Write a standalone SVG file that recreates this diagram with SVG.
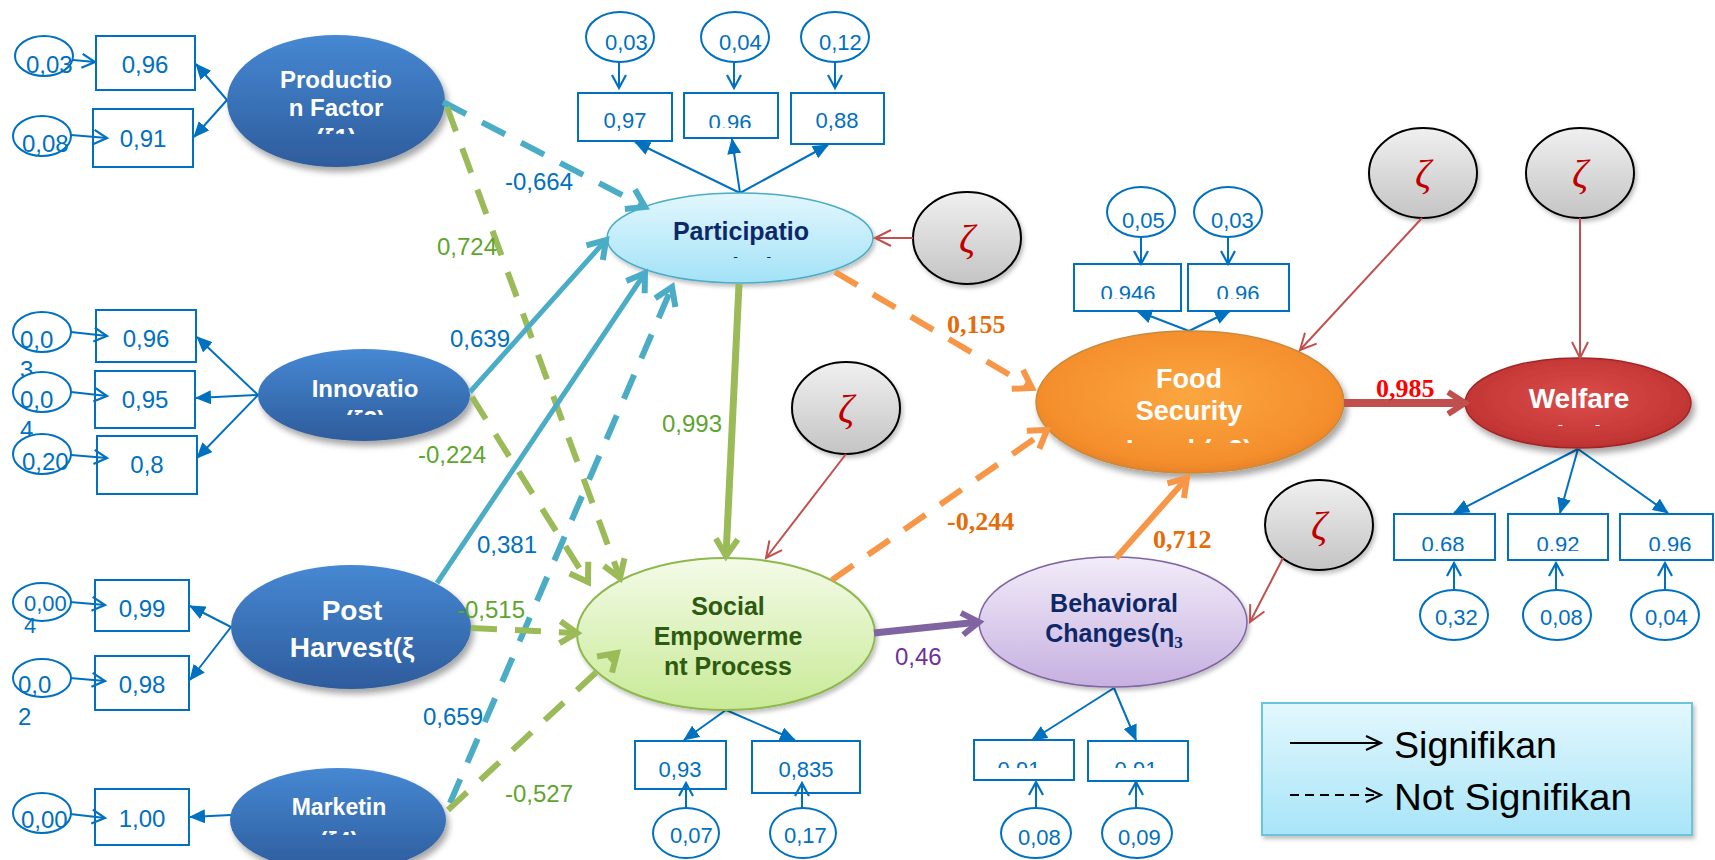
<svg xmlns="http://www.w3.org/2000/svg" width="1715" height="860" viewBox="0 0 1715 860">
<style>
.ind{stroke:#0070c0;stroke-width:2;fill:none}
.box{fill:#fff;stroke:#0070c0;stroke-width:2}
.err{fill:#fff;stroke:#0070c0;stroke-width:2}
.num{font-family:"Liberation Sans",Arial,sans-serif;font-size:22px;fill:#0070c0}
.numL{font-family:"Liberation Sans",Arial,sans-serif;font-size:24px;fill:#0070c0}
.c{text-anchor:middle}
.zeta{stroke:#000;stroke-width:2;fill:url(#gGray)}
.zt{font-family:"Liberation Serif","DejaVu Serif",serif;font-style:italic;font-size:40px;fill:#c00000;text-anchor:middle}
.zl{stroke:#c0504d;stroke-width:2;fill:none}
.lt{font-family:"Liberation Sans",Arial,sans-serif;font-weight:bold;text-anchor:middle}
.sb{stroke:#4bacc6;stroke-width:5;fill:none}
.db{stroke:#4bacc6;stroke-width:6;stroke-dasharray:26 18;fill:none}
.sg{stroke:#9bbb59;stroke-width:7;fill:none}
.dg{stroke:#9bbb59;stroke-width:6;stroke-dasharray:26 18;fill:none}
.do{stroke:#f79646;stroke-width:6;stroke-dasharray:26 18;fill:none}
.so{stroke:#f79646;stroke-width:6;fill:none}
.sp{stroke:#8064a2;stroke-width:7;fill:none}
.sr{stroke:#c0504d;stroke-width:8;fill:none}
.lab{font-family:"Liberation Sans",Arial,sans-serif;font-size:24px}
.labB{font-family:"Liberation Serif","Times New Roman",serif;font-weight:bold;font-size:26px}
.blue{fill:#0070c0}
.green{fill:#5ea52e}
</style>
<defs>
<linearGradient id="gExo" x1="0" y1="0" x2="0" y2="1"><stop offset="0" stop-color="#4688d3"/><stop offset="1" stop-color="#2e5c9c"/></linearGradient>
<linearGradient id="gPar" x1="0" y1="0" x2="0" y2="1"><stop offset="0" stop-color="#e2f7fd"/><stop offset="1" stop-color="#a3e2f7"/></linearGradient>
<linearGradient id="gSoc" x1="0" y1="0" x2="0" y2="1"><stop offset="0" stop-color="#f4fbe8"/><stop offset="1" stop-color="#c8ea96"/></linearGradient>
<radialGradient id="gFood" cx="0.5" cy="0.45" r="0.6"><stop offset="0" stop-color="#fba640"/><stop offset="0.8" stop-color="#f48e2c"/><stop offset="1" stop-color="#e07a25"/></radialGradient>
<radialGradient id="gWel" cx="0.5" cy="0.45" r="0.6"><stop offset="0" stop-color="#db4d4a"/><stop offset="0.85" stop-color="#c23534"/><stop offset="1" stop-color="#a82828"/></radialGradient>
<linearGradient id="gBeh" x1="0" y1="0" x2="0" y2="1"><stop offset="0" stop-color="#f2ecf9"/><stop offset="1" stop-color="#c6b0e0"/></linearGradient>
<linearGradient id="gGray" x1="0" y1="0" x2="0" y2="1"><stop offset="0" stop-color="#f0f0f0"/><stop offset="1" stop-color="#c4c4c4"/></linearGradient>
<linearGradient id="gLeg" x1="0" y1="0" x2="0" y2="1"><stop offset="0" stop-color="#e3f7fd"/><stop offset="1" stop-color="#a8e5f8"/></linearGradient>
<filter id="sh" x="-20%" y="-20%" width="140%" height="150%"><feDropShadow dx="3" dy="5" stdDeviation="3" flood-color="#000" flood-opacity="0.35"/></filter>
<filter id="shs" x="-20%" y="-20%" width="140%" height="150%"><feDropShadow dx="2" dy="3" stdDeviation="2" flood-color="#000" flood-opacity="0.25"/></filter>
<marker id="mBlue" markerUnits="userSpaceOnUse" viewBox="0 0 30 30" refX="26" refY="15" markerWidth="30" markerHeight="30" orient="auto" overflow="visible"><path d="M9,4 L26,15 L9,26" fill="none" stroke="#4bacc6" stroke-width="6"/></marker>
<marker id="mGreen" markerUnits="userSpaceOnUse" viewBox="0 0 30 30" refX="26" refY="15" markerWidth="30" markerHeight="30" orient="auto" overflow="visible"><path d="M9,4 L26,15 L9,26" fill="none" stroke="#9bbb59" stroke-width="6"/></marker>
<marker id="mOrange" markerUnits="userSpaceOnUse" viewBox="0 0 30 30" refX="26" refY="15" markerWidth="30" markerHeight="30" orient="auto" overflow="visible"><path d="M9,4 L26,15 L9,26" fill="none" stroke="#f79646" stroke-width="6"/></marker>
<marker id="mPurple" markerUnits="userSpaceOnUse" viewBox="0 0 30 30" refX="26" refY="15" markerWidth="30" markerHeight="30" orient="auto" overflow="visible"><path d="M9,4 L26,15 L9,26" fill="none" stroke="#8064a2" stroke-width="6"/></marker>
<marker id="mRed" markerUnits="userSpaceOnUse" viewBox="0 0 30 30" refX="26" refY="15" markerWidth="30" markerHeight="30" orient="auto" overflow="visible"><path d="M9,4 L26,15 L9,26" fill="none" stroke="#c0504d" stroke-width="6"/></marker>
<marker id="mTri" markerUnits="userSpaceOnUse" viewBox="0 0 16 14" refX="15" refY="7" markerWidth="16" markerHeight="14" orient="auto"><path d="M0,0 L16,7 L0,14 Z" fill="#0070c0"/></marker>
<marker id="mOpen" markerUnits="userSpaceOnUse" viewBox="0 0 16 16" refX="15" refY="8" markerWidth="16" markerHeight="16" orient="auto" overflow="visible"><path d="M2,1 L15,8 L2,15" fill="none" stroke="#0070c0" stroke-width="2.2"/></marker>
<marker id="mRedThin" markerUnits="userSpaceOnUse" viewBox="0 0 20 20" refX="19" refY="10" markerWidth="20" markerHeight="20" orient="auto" overflow="visible"><path d="M3,2 L19,10 L3,18" fill="none" stroke="#c0504d" stroke-width="2"/></marker>
<marker id="mBlack" markerUnits="userSpaceOnUse" viewBox="0 0 20 20" refX="19" refY="10" markerWidth="20" markerHeight="20" orient="auto" overflow="visible"><path d="M4,3 L19,10 L4,17" fill="none" stroke="#000" stroke-width="2"/></marker>
<clipPath id="cPh"><rect x="0" y="0" width="1715" height="134"/></clipPath>
<clipPath id="cInn"><rect x="0" y="0" width="1715" height="415"/></clipPath>
<clipPath id="cMkt"><rect x="0" y="0" width="1715" height="835"/></clipPath>
<clipPath id="cPar"><rect x="0" y="0" width="1715" height="258"/></clipPath>
<clipPath id="cFood"><rect x="0" y="0" width="1715" height="443"/></clipPath>
<clipPath id="cWel"><rect x="0" y="0" width="1715" height="426"/></clipPath>
<clipPath id="cPB"><rect x="0" y="0" width="1715" height="128"/></clipPath>
<clipPath id="cFB"><rect x="0" y="0" width="1715" height="299"/></clipPath>
<clipPath id="cWB"><rect x="0" y="0" width="1715" height="551"/></clipPath>
<clipPath id="cBB"><rect x="0" y="0" width="1715" height="768"/></clipPath>
</defs>
<rect width="1715" height="860" fill="#fff"/>

<!-- Production Factor -->
<g id="production-factor">
<rect class="box" x="96" y="36" width="99" height="54"/><text class="numL c" x="145" y="73">0,96</text>
<rect class="box" x="93" y="109" width="100" height="58"/><text class="numL c" x="143" y="147">0,91</text>
<ellipse class="err" cx="44" cy="56" rx="29" ry="20"/><text class="numL" x="26" y="73">0,03</text>
<ellipse class="err" cx="42" cy="136" rx="29" ry="20"/><text class="numL" x="22" y="152">0,08</text>
<line class="ind" x1="73" y1="60" x2="95" y2="62" marker-end="url(#mOpen)"/>
<line class="ind" x1="71" y1="135" x2="107" y2="138" marker-end="url(#mOpen)"/>
<line class="ind" x1="227" y1="100" x2="196" y2="64" marker-end="url(#mTri)"/>
<line class="ind" x1="227" y1="100" x2="194" y2="137" marker-end="url(#mTri)"/>
<ellipse cx="336" cy="101" rx="109" ry="66" fill="url(#gExo)" filter="url(#sh)"/>
<text class="lt" x="336" y="88" font-size="24" fill="#fff">Productio</text>
<text class="lt" x="336" y="116" font-size="24" fill="#fff">n Factor</text>
<text class="lt" x="336" y="146" font-size="24" fill="#fff" clip-path="url(#cPh)">(ξ1)</text>
</g>

<!-- Innovation -->
<g id="innovation">
<rect class="box" x="96" y="310" width="100" height="52"/><text class="numL c" x="146" y="347">0,96</text>
<rect class="box" x="95" y="371" width="100" height="57"/><text class="numL c" x="145" y="408">0,95</text>
<rect class="box" x="97" y="436" width="100" height="58"/><text class="numL c" x="147" y="473">0,8</text>
<ellipse class="err" cx="42" cy="332" rx="29" ry="20"/><text class="numL" x="20" y="348">0,0</text><text class="numL" x="20" y="378">3</text>
<ellipse class="err" cx="42" cy="392" rx="29" ry="20"/><text class="numL" x="20" y="408">0,0</text><text class="numL" x="20" y="438">4</text>
<ellipse class="err" cx="42" cy="454" rx="29" ry="20"/><text class="numL" x="22" y="470">0,20</text>
<line class="ind" x1="71" y1="332" x2="107" y2="336" marker-end="url(#mOpen)"/>
<line class="ind" x1="71" y1="392" x2="107" y2="396" marker-end="url(#mOpen)"/>
<line class="ind" x1="71" y1="455" x2="107" y2="458" marker-end="url(#mOpen)"/>
<line class="ind" x1="258" y1="395" x2="197" y2="337" marker-end="url(#mTri)"/>
<line class="ind" x1="258" y1="395" x2="196" y2="398" marker-end="url(#mTri)"/>
<line class="ind" x1="258" y1="395" x2="197" y2="458" marker-end="url(#mTri)"/>
<ellipse cx="364" cy="395" rx="106" ry="46" fill="url(#gExo)" filter="url(#sh)"/>
<text class="lt" x="365" y="397" font-size="24" fill="#fff">Innovatio</text>
<text class="lt" x="365" y="428" font-size="24" fill="#fff" clip-path="url(#cInn)">(ξ2)</text>
</g>

<!-- Post Harvest -->
<g id="post-harvest">
<rect class="box" x="95" y="580" width="94" height="51"/><text class="numL c" x="142" y="617">0,99</text>
<rect class="box" x="95" y="656" width="94" height="54"/><text class="numL c" x="142" y="693">0,98</text>
<ellipse class="err" cx="42" cy="602" rx="29" ry="19"/><text class="num" x="24" y="611" font-size="17">0,00</text><text class="num" x="24" y="633" font-size="17">4</text>
<ellipse class="err" cx="42" cy="678" rx="29" ry="19"/><text class="numL" x="18" y="693">0,0</text><text class="numL" x="18" y="725">2</text>
<line class="ind" x1="70" y1="602" x2="105" y2="605" marker-end="url(#mOpen)"/>
<line class="ind" x1="70" y1="678" x2="105" y2="681" marker-end="url(#mOpen)"/>
<line class="ind" x1="231" y1="627" x2="190" y2="606" marker-end="url(#mTri)"/>
<line class="ind" x1="231" y1="627" x2="190" y2="680" marker-end="url(#mTri)"/>
<ellipse cx="351" cy="627" rx="120" ry="62" fill="url(#gExo)" filter="url(#sh)"/>
<text class="lt" x="352" y="620" font-size="28" fill="#fff">Post</text>
<text class="lt" x="352" y="657" font-size="28" fill="#fff">Harvest(ξ</text>
</g>

<!-- Marketing -->
<g id="marketing">
<rect class="box" x="95" y="789" width="94" height="56"/><text class="numL c" x="142" y="827">1,00</text>
<ellipse class="err" cx="42" cy="813" rx="29" ry="20"/><text class="numL" x="21" y="828">0,00</text>
<line class="ind" x1="70" y1="814" x2="105" y2="818" marker-end="url(#mOpen)"/>
<line class="ind" x1="231" y1="815" x2="190" y2="817" marker-end="url(#mTri)"/>
<ellipse cx="338" cy="820" rx="108" ry="52" fill="url(#gExo)" filter="url(#sh)"/>
<text class="lt" x="339" y="815" font-size="23" fill="#fff">Marketin</text>
<text class="lt" x="339" y="849" font-size="23" fill="#fff" clip-path="url(#cMkt)">(ξ4)</text>
</g>

<!-- Participation -->
<g id="participation">
<rect class="box" x="578" y="93" width="94" height="48"/><text class="num c" x="625" y="128">0,97</text>
<rect class="box" x="684" y="93" width="94" height="45"/><text class="num c" x="730" y="130" clip-path="url(#cPB)">0.96</text>
<rect class="box" x="791" y="93" width="93" height="51"/><text class="num c" x="837" y="128">0,88</text>
<ellipse class="err" cx="620" cy="37" rx="34" ry="25"/><text class="num" x="605" y="50">0,03</text>
<ellipse class="err" cx="735" cy="37" rx="34" ry="25"/><text class="num" x="719" y="50">0,04</text>
<ellipse class="err" cx="835" cy="37" rx="34" ry="25"/><text class="num" x="819" y="50">0,12</text>
<line class="ind" x1="619" y1="62" x2="619" y2="88" marker-end="url(#mOpen)"/>
<line class="ind" x1="734" y1="62" x2="734" y2="88" marker-end="url(#mOpen)"/>
<line class="ind" x1="835" y1="62" x2="835" y2="88" marker-end="url(#mOpen)"/>
<line class="ind" x1="740" y1="193" x2="635" y2="142" marker-end="url(#mTri)"/>
<line class="ind" x1="740" y1="193" x2="732" y2="139" marker-end="url(#mTri)"/>
<line class="ind" x1="740" y1="193" x2="828" y2="145" marker-end="url(#mTri)"/>
<ellipse cx="740" cy="238" rx="133" ry="45" fill="url(#gPar)" stroke="#4bacc6" stroke-width="1.5" filter="url(#shs)"/>
<text class="lt" x="741" y="240" font-size="25" fill="#0d2869">Participatio</text>
<text class="lt" x="741" y="276" font-size="25" fill="#0d2869" clip-path="url(#cPar)">n (η1)</text>
</g>

<!-- Social Empowerment Process -->
<g id="social-empowerment">
<rect class="box" x="635" y="741" width="91" height="48"/><text class="num c" x="680" y="777">0,93</text>
<rect class="box" x="752" y="741" width="108" height="52"/><text class="num c" x="806" y="777">0,835</text>
<ellipse class="err" cx="686" cy="833" rx="33" ry="25"/><text class="num" x="670" y="843">0,07</text>
<ellipse class="err" cx="803" cy="833" rx="33" ry="25"/><text class="num" x="784" y="843">0,17</text>
<line class="ind" x1="686" y1="808" x2="686" y2="783" marker-end="url(#mOpen)"/>
<line class="ind" x1="802" y1="808" x2="802" y2="783" marker-end="url(#mOpen)"/>
<line class="ind" x1="726" y1="710" x2="684" y2="740" marker-end="url(#mTri)"/>
<line class="ind" x1="726" y1="710" x2="795" y2="740" marker-end="url(#mTri)"/>
<ellipse cx="726" cy="634" rx="149" ry="76" fill="url(#gSoc)" stroke="#8fb84f" stroke-width="2" filter="url(#shs)"/>
<text class="lt" x="728" y="615" font-size="25" fill="#2d5b0f">Social</text>
<text class="lt" x="728" y="645" font-size="25" fill="#2d5b0f">Empowerme</text>
<text class="lt" x="728" y="675" font-size="25" fill="#2d5b0f">nt Process</text>
</g>

<!-- Food Security -->
<g id="food-security">
<rect class="box" x="1074" y="264" width="107" height="47"/><text class="num c" x="1128" y="301" clip-path="url(#cFB)">0.946</text>
<rect class="box" x="1188" y="264" width="101" height="47"/><text class="num c" x="1238" y="301" clip-path="url(#cFB)">0.96</text>
<ellipse class="err" cx="1141" cy="212" rx="34" ry="25"/><text class="num" x="1122" y="228">0,05</text>
<ellipse class="err" cx="1228" cy="212" rx="34" ry="25"/><text class="num" x="1211" y="228">0,03</text>
<line class="ind" x1="1141" y1="237" x2="1141" y2="264" marker-end="url(#mOpen)"/>
<line class="ind" x1="1228" y1="237" x2="1228" y2="264" marker-end="url(#mOpen)"/>
<line class="ind" x1="1189" y1="331" x2="1137" y2="311" marker-end="url(#mTri)"/>
<line class="ind" x1="1189" y1="331" x2="1230" y2="311" marker-end="url(#mTri)"/>
<ellipse cx="1190" cy="402" rx="154" ry="71" fill="url(#gFood)" stroke="#c98a3a" stroke-width="1.5" filter="url(#sh)"/>
<text class="lt" x="1189" y="388" font-size="27" fill="#fff">Food</text>
<text class="lt" x="1189" y="420" font-size="27" fill="#fff">Security</text>
<text class="lt" x="1189" y="459" font-size="27" fill="#fff" clip-path="url(#cFood)">Level (η2)</text>
</g>

<!-- Welfare -->
<g id="welfare">
<rect class="box" x="1394" y="514" width="101" height="46"/><text class="num c" x="1443" y="552" clip-path="url(#cWB)">0.68</text>
<rect class="box" x="1508" y="514" width="100" height="46"/><text class="num c" x="1558" y="552" clip-path="url(#cWB)">0.92</text>
<rect class="box" x="1620" y="514" width="93" height="46"/><text class="num c" x="1670" y="552" clip-path="url(#cWB)">0.96</text>
<ellipse class="err" cx="1454" cy="615" rx="34" ry="25"/><text class="num" x="1435" y="625">0,32</text>
<ellipse class="err" cx="1557" cy="615" rx="34" ry="25"/><text class="num" x="1540" y="625">0,08</text>
<ellipse class="err" cx="1665" cy="615" rx="34" ry="25"/><text class="num" x="1645" y="625">0,04</text>
<line class="ind" x1="1454" y1="590" x2="1454" y2="563" marker-end="url(#mOpen)"/>
<line class="ind" x1="1556" y1="590" x2="1556" y2="563" marker-end="url(#mOpen)"/>
<line class="ind" x1="1665" y1="590" x2="1665" y2="563" marker-end="url(#mOpen)"/>
<line class="ind" x1="1578" y1="449" x2="1454" y2="513" marker-end="url(#mTri)"/>
<line class="ind" x1="1578" y1="449" x2="1560" y2="513" marker-end="url(#mTri)"/>
<line class="ind" x1="1578" y1="449" x2="1668" y2="513" marker-end="url(#mTri)"/>
<ellipse cx="1578" cy="403" rx="113" ry="45" fill="url(#gWel)" stroke="#a02626" stroke-width="1.5" filter="url(#sh)"/>
<text class="lt" x="1579" y="408" font-size="28" fill="#fff">Welfare</text>
<text class="lt" x="1579" y="445" font-size="28" fill="#fff" clip-path="url(#cWel)">(η4)</text>
</g>

<!-- Behavioral Changes -->
<g id="behavioral-changes">
<rect class="box" x="974" y="740" width="100" height="40"/><text class="num c" x="1019" y="777" clip-path="url(#cBB)">0.91</text>
<rect class="box" x="1088" y="741" width="100" height="40"/><text class="num c" x="1136" y="777" clip-path="url(#cBB)">0.91</text>
<ellipse class="err" cx="1036" cy="833" rx="35" ry="25"/><text class="num" x="1018" y="845">0,08</text>
<ellipse class="err" cx="1137" cy="833" rx="35" ry="25"/><text class="num" x="1118" y="845">0,09</text>
<line class="ind" x1="1036" y1="808" x2="1036" y2="782" marker-end="url(#mOpen)"/>
<line class="ind" x1="1136" y1="808" x2="1136" y2="782" marker-end="url(#mOpen)"/>
<line class="ind" x1="1114" y1="688" x2="1032" y2="740" marker-end="url(#mTri)"/>
<line class="ind" x1="1114" y1="688" x2="1136" y2="740" marker-end="url(#mTri)"/>
<ellipse cx="1113" cy="622" rx="134" ry="65" fill="url(#gBeh)" stroke="#8064a2" stroke-width="1.5" filter="url(#shs)"/>
<text class="lt" x="1114" y="612" font-size="25" fill="#0d2869">Behavioral</text>
<text class="lt" x="1114" y="642" font-size="25" fill="#0d2869">Changes(η<tspan font-family="Liberation Serif,serif" font-size="17" dy="6">3</tspan></text>
</g>

<!-- Disturbance terms -->
<g id="zeta-participation"><ellipse class="zeta" cx="967" cy="238" rx="54" ry="46" filter="url(#shs)"/><text class="zt" x="967" y="252">ζ</text></g>
<g id="zeta-social"><ellipse class="zeta" cx="846" cy="408" rx="54" ry="46" filter="url(#shs)"/><text class="zt" x="846" y="422">ζ</text></g>
<g id="zeta-food"><ellipse class="zeta" cx="1423" cy="173" rx="54" ry="45" filter="url(#shs)"/><text class="zt" x="1423" y="187">ζ</text></g>
<g id="zeta-welfare"><ellipse class="zeta" cx="1580" cy="173" rx="54" ry="45" filter="url(#shs)"/><text class="zt" x="1580" y="187">ζ</text></g>
<g id="zeta-behavioral"><ellipse class="zeta" cx="1319" cy="525" rx="54" ry="45" filter="url(#shs)"/><text class="zt" x="1319" y="539">ζ</text></g>

<!-- Legend -->
<g id="legend">
<rect x="1262" y="703" width="430" height="132" fill="url(#gLeg)" stroke="#6cc3dc" stroke-width="2" filter="url(#shs)"/>
<line x1="1290" y1="743" x2="1381" y2="743" stroke="#000" stroke-width="2" marker-end="url(#mBlack)"/>
<line x1="1290" y1="795" x2="1381" y2="795" stroke="#000" stroke-width="2" stroke-dasharray="9 6" marker-end="url(#mBlack)"/>
<text x="1394" y="758" font-family="Liberation Sans,Arial,sans-serif" font-size="36" textLength="163" lengthAdjust="spacingAndGlyphs" fill="#000">Signifikan</text>
<text x="1394" y="810" font-family="Liberation Sans,Arial,sans-serif" font-size="36" textLength="238" lengthAdjust="spacingAndGlyphs" fill="#000">Not Signifikan</text>
</g>

<!-- Connectors -->
<g id="connectors">
<path class="db" d="M443,102 L645,207" marker-end="url(#mBlue)"/>
<path class="dg" d="M447,107 L620,578" marker-end="url(#mGreen)"/>
<path class="sb" d="M470,392 L606,240" marker-end="url(#mBlue)"/>
<path class="dg" d="M472,397 L588,582" marker-end="url(#mGreen)"/>
<path class="sb" d="M437,583 L645,273" marker-end="url(#mBlue)"/>
<path class="db" d="M450,803 L672,287" marker-end="url(#mBlue)"/>
<path class="dg" d="M471,628 L577,633" marker-end="url(#mGreen)"/>
<path class="dg" d="M448,810 L617,653" marker-end="url(#mGreen)"/>
<path class="sg" d="M739,284 L726,556" marker-end="url(#mGreen)"/>
<path class="do" d="M835,272 L1032,388" marker-end="url(#mOrange)"/>
<path class="do" d="M832,580 L1047,430" marker-end="url(#mOrange)"/>
<path class="sp" d="M874,633 L979,622" marker-end="url(#mPurple)"/>
<path class="so" d="M1116,558 L1187,478" marker-end="url(#mOrange)"/>
<path class="sr" d="M1344,403 L1465,403" marker-end="url(#mRed)"/>
<path class="zl" d="M913,238 L875,238" marker-end="url(#mRedThin)"/>
<path class="zl" d="M846,454 L766,558" marker-end="url(#mRedThin)"/>
<path class="zl" d="M1422,218 L1300,350" marker-end="url(#mRedThin)"/>
<path class="zl" d="M1580,218 L1580,358" marker-end="url(#mRedThin)"/>
<path class="zl" d="M1283,558 L1250,622" marker-end="url(#mRedThin)"/>
<text class="lab blue" x="505" y="190">-0,664</text>
<text class="lab green" x="437" y="255">0,724</text>
<text class="lab blue" x="450" y="347">0,639</text>
<text class="lab green" x="418" y="463">-0,224</text>
<text class="lab blue" x="477" y="553">0,381</text>
<text class="lab green" x="457" y="618">-0,515</text>
<text class="lab blue" x="423" y="725">0,659</text>
<text class="lab green" x="505" y="802">-0,527</text>
<text class="lab green" x="662" y="432">0,993</text>
<text class="lab" x="895" y="665" fill="#7030a0">0,46</text>
<text class="labB" x="947" y="333" fill="#e46c0a">0,155</text>
<text class="labB" x="947" y="530" fill="#e46c0a">-0,244</text>
<text class="labB" x="1153" y="548" fill="#e46c0a">0,712</text>
<text class="labB" x="1376" y="397" fill="#ff0000">0,985</text>
</g>
</svg>
